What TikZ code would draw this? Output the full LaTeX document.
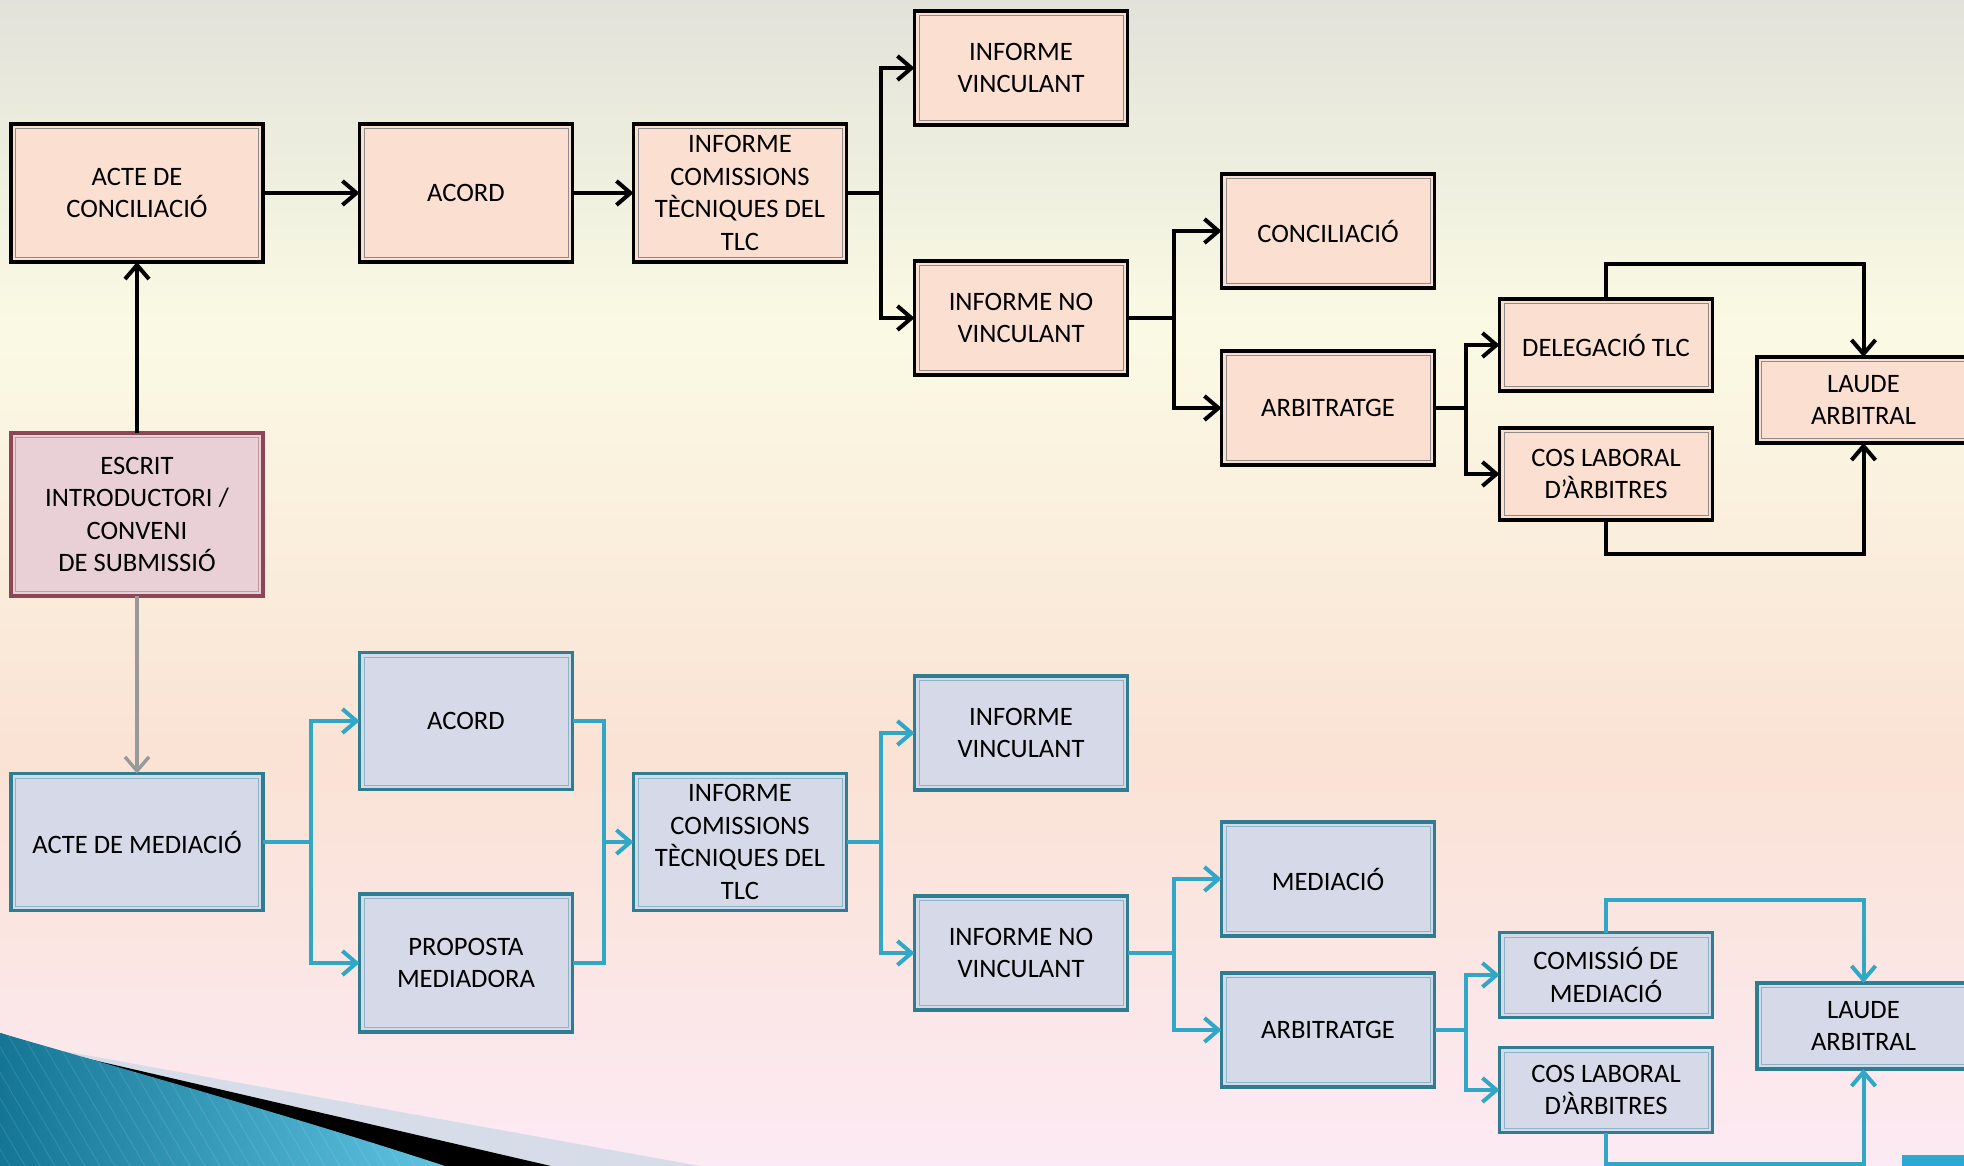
\documentclass[tikz,border=0pt]{standalone}
\usepackage{fontspec}
\setmainfont{Carlito}
\usetikzlibrary{arrows.meta}
\definecolor{bgA}{RGB}{226,226,218}
\definecolor{bgB}{RGB}{250,250,228}
\definecolor{bgC}{RGB}{250,226,212}
\definecolor{bgD}{RGB}{252,234,244}
\definecolor{salmonfill}{RGB}{251,224,210}
\definecolor{bluefill}{RGB}{214,218,232}
\definecolor{tealborder}{RGB}{46,125,147}
\definecolor{tealinner}{RGB}{140,180,200}
\definecolor{escfill}{RGB}{232,208,214}
\definecolor{escborder}{RGB}{140,70,85}
\definecolor{escinner}{RGB}{200,150,162}
\definecolor{conblue}{RGB}{49,167,199}
\definecolor{bandlight}{RGB}{214,220,232}
\definecolor{decoA}{RGB}{20,118,148}
\definecolor{decoB}{RGB}{96,196,226}
\definecolor{tabblue}{RGB}{43,169,211}
\tikzset{
  base/.style={rectangle, align=center, inner sep=0pt, outer sep=0pt,
    font=\fontsize{13.3pt}{16.2pt}\selectfont, line width=1.7pt},
  topbox/.style={base, draw=black, fill=salmonfill},
  botbox/.style={base, draw=tealborder, fill=bluefill},
  escbox/.style={base, draw=escborder, fill=escfill},
  wbox/.style={minimum width=126pt},
  nbox/.style={minimum width=106.5pt},
  tip/.style={-{Straight Barb[length=7pt,width=12pt]}},
  blk/.style={draw=black, line width=2pt, line join=miter},
  blu/.style={draw=conblue, line width=2pt, line join=miter},
  gry/.style={draw=black!40, line width=1.7pt},
  inblk/.style={draw=black!45, line width=0.5pt},
  inblu/.style={draw=tealinner, line width=0.5pt},
  inesc/.style={draw=escinner, line width=0.5pt}
}
\begin{document}
\begin{tikzpicture}[x=0.5pt,y=-0.5pt]
\useasboundingbox (0,0) rectangle (1964,1166);
\clip (0,0) rectangle (1964,1166);
% background
\shade[top color=bgA, bottom color=bgB] (0,-1) rectangle (1964,330);
\shade[top color=bgB, bottom color=bgC] (0,329) rectangle (1964,760);
\shade[top color=bgC, bottom color=bgD] (0,759) rectangle (1964,1167);
% bottom-left decoration
\fill[bandlight] (0,1033) .. controls (25,1041) .. (63,1051) -- (700,1166) -- (0,1166) -- cycle;
\fill[black] (0,1033) .. controls (25,1041) .. (63,1053) -- (551,1166) -- (0,1166) -- cycle;
\begin{scope}
\clip (0,1033) .. controls (180,1085) and (320,1125) .. (445,1166) -- (0,1166) -- cycle;
\shade[left color=decoA, right color=decoB] (0,1030) rectangle (450,1166);
\foreach \k in {-200,-185,...,460}
  \draw[white, opacity=0.12, line width=0.4pt] (\k,1166) -- (\k-80,1030);
\end{scope}
\fill[tabblue] (1902,1155) rectangle (1964,1166);

% ---------- top (conciliation) ----------
\node[topbox,wbox,minimum height=69pt] (acte) at (137,193) {ACTE DE\\CONCILIACIÓ};
\node[topbox,nbox,minimum height=69pt] (acord) at (466,193) {ACORD};
\node[topbox,nbox,minimum height=69pt] (infc) at (740,193) {INFORME\\COMISSIONS\\TÈCNIQUES DEL\\TLC};
\node[topbox,nbox,minimum height=57pt] (infv) at (1021,68) {INFORME\\VINCULANT};
\node[topbox,nbox,minimum height=57pt] (infnv) at (1021,318) {INFORME NO\\VINCULANT};
\node[topbox,nbox,minimum height=57pt] (conc) at (1328,231) {CONCILIACIÓ};
\node[topbox,nbox,minimum height=57pt] (arb) at (1328,408) {ARBITRATGE};
\node[topbox,nbox,minimum height=46pt] (deleg) at (1606,345) {DELEGACIÓ TLC};
\node[topbox,nbox,minimum height=46pt] (cos) at (1606,474) {COS LABORAL\\D’ÀRBITRES};
\node[topbox,nbox,minimum height=43pt] (laude) at (1863.5,400) {LAUDE\\ARBITRAL};
\node[escbox,wbox,minimum height=81.5pt] (escrit) at (137,514.5) {ESCRIT\\INTRODUCTORI /\\CONVENI\\DE SUBMISSIÓ};

% ---------- bottom (mediation) ----------
\node[botbox,wbox,minimum height=68.5pt] (actem) at (137,842) {ACTE DE MEDIACIÓ};
\node[botbox,nbox,minimum height=68.5pt] (acordb) at (466,721) {ACORD};
\node[botbox,nbox,minimum height=69pt] (prop) at (466,963) {PROPOSTA\\MEDIADORA};
\node[botbox,nbox,minimum height=68.5pt] (infcb) at (740,842) {INFORME\\COMISSIONS\\TÈCNIQUES DEL\\TLC};
\node[botbox,nbox,minimum height=57pt] (infvb) at (1021,733) {INFORME\\VINCULANT};
\node[botbox,nbox,minimum height=57pt] (infnvb) at (1021,953) {INFORME NO\\VINCULANT};
\node[botbox,nbox,minimum height=57pt] (med) at (1328,879) {MEDIACIÓ};
\node[botbox,nbox,minimum height=57pt] (arbb) at (1328,1030) {ARBITRATGE};
\node[botbox,nbox,minimum height=42.5pt] (comis) at (1606,975) {COMISSIÓ DE\\MEDIACIÓ};
\node[botbox,nbox,minimum height=42.5pt] (cosb) at (1606,1090) {COS LABORAL\\D’ÀRBITRES};
\node[botbox,nbox,minimum height=43pt] (laudeb) at (1863.5,1026) {LAUDE\\ARBITRAL};

% inner frames
\foreach \n in {acte,acord,infc,infv,infnv,conc,arb,deleg,cos,laude}
  \draw[inblk] ([shift={(4.5,4.5)}]\n.north west) rectangle ([shift={(-4.5,-4.5)}]\n.south east);
\foreach \n in {actem,acordb,prop,infcb,infvb,infnvb,med,arbb,comis,cosb,laudeb}
  \draw[inblu] ([shift={(4.5,4.5)}]\n.north west) rectangle ([shift={(-4.5,-4.5)}]\n.south east);
\draw[inesc] ([shift={(4.5,4.5)}]escrit.north west) rectangle ([shift={(-4.5,-4.5)}]escrit.south east);

% ---------- connectors top ----------
\coordinate (s1) at (881,193);
\coordinate (s2) at (1174,318);
\coordinate (s3) at (1466,408);
\coordinate (t1) at (1863.5,264);
\coordinate (t2) at (1863.5,554);
\draw[blk,tip] (acte) -- (acord);
\draw[blk,tip] (acord) -- (infc);
\draw[blk,tip] (infc) -- (s1) |- (infv);
\draw[blk,tip] (s1) |- (infnv);
\draw[blk,tip] (infnv) -- (s2) |- (conc);
\draw[blk,tip] (s2) |- (arb);
\draw[blk,tip] (arb) -- (s3) |- (deleg);
\draw[blk,tip] (s3) |- (cos);
\draw[blk,tip] (deleg.north) |- (t1) -- (laude.north);
\draw[blk,tip] (cos.south) |- (t2) -- (laude.south);
\draw[blk,tip] (escrit) -- (acte);
\draw[gry,tip] (escrit) -- (actem);

% ---------- connectors bottom ----------
\coordinate (s4) at (311,842);
\coordinate (s5) at (604,842);
\coordinate (s6) at (881,842);
\coordinate (s7) at (1174,953);
\coordinate (s8) at (1466,1030);
\coordinate (t3) at (1863.5,900);
\coordinate (t4) at (1863.5,1164);
\draw[blu,tip] (actem) -- (s4) |- (acordb);
\draw[blu,tip] (s4) |- (prop);
\draw[blu,tip] (acordb.east) -| (s5) -- (infcb);
\draw[blu] (prop.east) -| (s5);
\draw[blu,tip] (infcb) -- (s6) |- (infvb);
\draw[blu,tip] (s6) |- (infnvb);
\draw[blu,tip] (infnvb) -- (s7) |- (med);
\draw[blu,tip] (s7) |- (arbb);
\draw[blu,tip] (arbb) -- (s8) |- (comis);
\draw[blu,tip] (s8) |- (cosb);
\draw[blu,tip] (comis.north) |- (t3) -- (laudeb.north);
\draw[blu,tip] (cosb.south) |- (t4) -- (laudeb.south);
\end{tikzpicture}
\end{document}
